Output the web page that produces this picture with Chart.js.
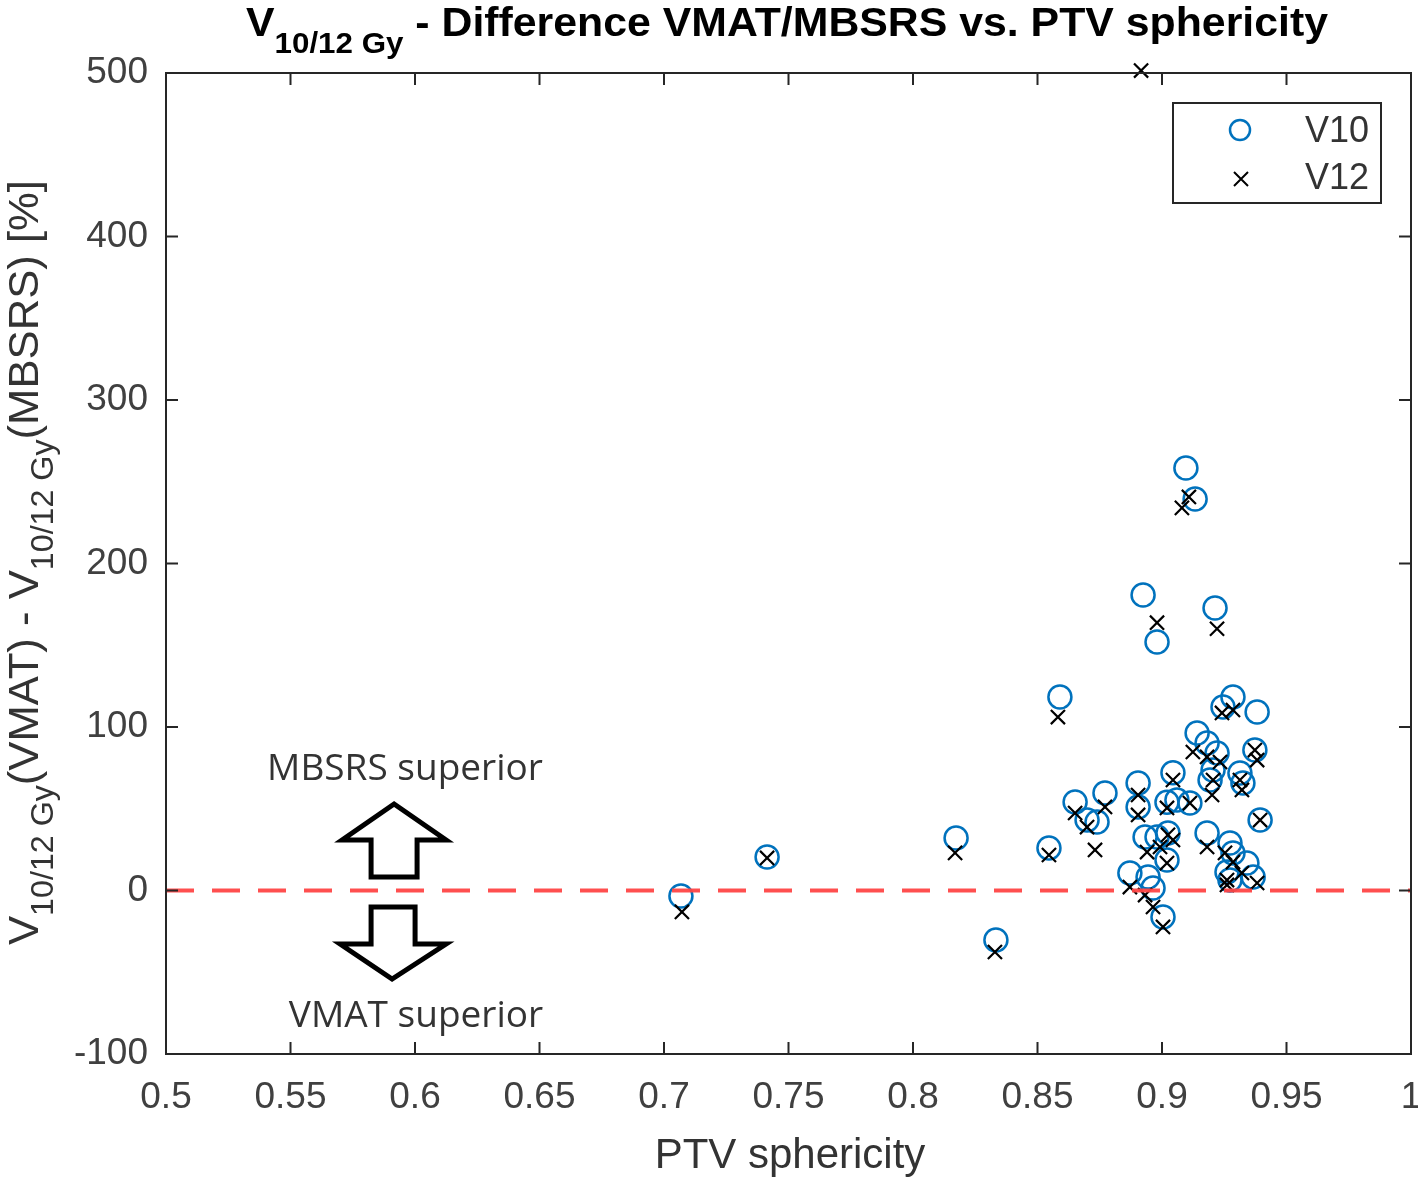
<!DOCTYPE html>
<html>
<head>
<meta charset="utf-8">
<script src="https://cdn.jsdelivr.net/npm/chart.js@4.4.1/dist/chart.umd.min.js"></script>
<style>
  html, body { margin: 0; padding: 0; background: #fff; }
  #wrap { width: 1418px; height: 1178px; }
</style>
</head>
<body>
<div id="wrap"><canvas id="chart" width="1418" height="1178"></canvas></div>
<script>
// valores (V10 = círculos, V12 = x)
const v10X = [0.7068, 0.7414, 0.8173, 0.8333, 0.8546, 0.8590, 0.8651, 0.8771, 0.8699, 0.8739,
              0.8904, 0.8904, 0.9044, 0.9020, 0.9060, 0.9112, 0.8932, 0.8980, 0.9024, 0.9020,
              0.8871, 0.8944, 0.8964, 0.9004, 0.9141, 0.9181, 0.9221, 0.9245, 0.9285, 0.9382,
              0.9373, 0.9313, 0.9325, 0.9193, 0.9205, 0.9394, 0.9181, 0.9273, 0.9285, 0.9341,
              0.9261, 0.9366, 0.9273, 0.9096, 0.9133, 0.8924, 0.8980, 0.9213];
const v10Y = [-3.4, 20.5, 32.1, -30.3, 26.0, 118.3, 54.1, 59.6, 43.1, 41.9,
              65.7, 51.1, 72.0, 54.0, 55.3, 53.5, 32.7, 32.7, 35.2, 18.7,
              10.7, 8.3, 1.5, -16.2, 96.3, 90.2, 84.1, 112.2, 118.3, 109.2,
              85.9, 71.9, 65.8, 67.6, 73.7, 43.1, 35.2, 29.1, 23.0, 16.8,
              11.3, 8.3, 6.4, 258.4, 239.4, 180.7, 152.0, 172.8];

const v12X = [0.7072, 0.7414, 0.8169, 0.8329, 0.8546, 0.8582, 0.8651, 0.8771, 0.8699, 0.8731,
              0.8904, 0.8904, 0.9044, 0.9020, 0.9112, 0.9024, 0.9044, 0.8940, 0.8992, 0.9020,
              0.8871, 0.8932, 0.8964, 0.9004, 0.9124, 0.9181, 0.9233, 0.9241, 0.9285, 0.9373,
              0.9382, 0.9313, 0.9321, 0.9201, 0.9205, 0.9394, 0.9181, 0.9253, 0.9285, 0.9321,
              0.9261, 0.9382, 0.9261, 0.9108, 0.9080, 0.8980, 0.9221, 0.8916];
const v12Y = [-13.1, 19.9, 23.0, -37.6, 21.7, 106.1, 47.4, 51.1, 38.8, 24.8,
              58.4, 46.2, 67.6, 50.5, 53.5, 34.0, 30.9, 23.5, 26.6, 16.8,
              2.1, -2.8, -10.1, -22.3, 84.7, 81.7, 78.6, 108.6, 110.4, 85.9,
              79.8, 67.6, 61.5, 58.4, 67.6, 43.1, 26.6, 23.0, 17.4, 10.7,
              6.4, 4.6, 3.4, 240.7, 234.0, 163.8, 160.1, 501.5];

const xRange = [0.5, 1];
const yRange = [-100, 500];
const refLine = [0, 0];   // linha de referência y = 0

const seriesNames = ['V10', 'V12'];
const titleMain = 'V';
const titleSub = '10/12 Gy';
const titleRest = ' - Difference VMAT/MBSRS vs. PTV sphericity';
const xTitle = 'PTV sphericity';
const upLabel = 'MBSRS superior';
const downLabel = 'VMAT superior';
const arrowX = 0.5916;    // posição das setas (unidades do eixo x)

const blue = '#0072BD';
const axisCol = '#262626';
const textCol = '#333333';

function toPoints(xs, ys) {
    return xs.map((x, i) => ({ x: x, y: ys[i] }));
}

// desenha texto com partes em subscrito, ajustado a uma largura alvo
function drawRich(ctx, parts, x, y, targetW) {
    let total = 0;
    parts.forEach(p => { ctx.font = p.font; total += ctx.measureText(p.text).width; });
    const sx = targetW ? targetW / total : 1;
    ctx.save();
    ctx.translate(x, y);
    ctx.scale(sx, 1);
    let cx = 0;
    parts.forEach(p => {
        ctx.font = p.font;
        ctx.fillText(p.text, cx, p.dy || 0);
        cx += ctx.measureText(p.text).width;
    });
    ctx.restore();
}

const decorPlugin = {
    id: 'decor',
    afterDraw(chart) {
        const ctx = chart.ctx;
        const a = chart.chartArea;
        const xs = chart.scales.x, ys = chart.scales.y;
        ctx.save();

        // caixa do eixo e ticks para dentro
        ctx.strokeStyle = axisCol;
        ctx.lineWidth = 2;
        ctx.strokeRect(a.left, a.top, a.right - a.left, a.bottom - a.top);
        ctx.beginPath();
        xs.ticks.forEach(t => {
            const px = xs.getPixelForValue(t.value);
            ctx.moveTo(px, a.bottom); ctx.lineTo(px, a.bottom - 12);
            ctx.moveTo(px, a.top); ctx.lineTo(px, a.top + 12);
        });
        ys.ticks.forEach(t => {
            const py = ys.getPixelForValue(t.value);
            ctx.moveTo(a.left, py); ctx.lineTo(a.left + 12, py);
            ctx.moveTo(a.right, py); ctx.lineTo(a.right - 12, py);
        });
        ctx.stroke();

        // título
        ctx.fillStyle = '#000';
        ctx.textBaseline = 'alphabetic';
        ctx.textAlign = 'left';
        drawRich(ctx, [
            { text: titleMain, font: 'bold 41px "Liberation Sans"' },
            { text: titleSub, font: 'bold 30px "Liberation Sans"', dy: 17 },
            { text: titleRest, font: 'bold 41px "Liberation Sans"' }
        ], 246, 36, 1082);

        // título do eixo x
        ctx.fillStyle = textCol;
        ctx.font = '42px "Liberation Sans"';
        ctx.textAlign = 'center';
        ctx.fillText(xTitle, 790, 1168);

        // título do eixo y (rodado)
        ctx.textAlign = 'left';
        ctx.save();
        ctx.translate(38, 945);
        ctx.rotate(-Math.PI / 2);
        drawRich(ctx, [
            { text: 'V', font: '42px "Liberation Sans"' },
            { text: titleSub, font: '31px "Liberation Sans"', dy: 15 },
            { text: '(VMAT) - V', font: '42px "Liberation Sans"' },
            { text: titleSub, font: '31px "Liberation Sans"', dy: 15 },
            { text: '(MBSRS) [%]', font: '42px "Liberation Sans"' }
        ], 0, 0, 765);
        ctx.restore();

        // legenda
        const lx = 1173, ly = 103, lw = 208, lh = 100;
        ctx.fillStyle = '#fff';
        ctx.fillRect(lx, ly, lw, lh);
        ctx.strokeStyle = axisCol;
        ctx.lineWidth = 2;
        ctx.strokeRect(lx, ly, lw, lh);
        ctx.strokeStyle = blue;
        ctx.lineWidth = 2.5;
        ctx.beginPath();
        ctx.arc(1240, 130, 10, 0, Math.PI * 2);
        ctx.stroke();
        ctx.strokeStyle = '#000';
        ctx.lineWidth = 2;
        ctx.beginPath();
        ctx.moveTo(1234, 172); ctx.lineTo(1248, 186);
        ctx.moveTo(1248, 172); ctx.lineTo(1234, 186);
        ctx.stroke();
        ctx.fillStyle = textCol;
        ctx.font = '36px "Liberation Sans"';
        ctx.textAlign = 'right';
        ctx.textBaseline = 'middle';
        ctx.fillText(seriesNames[0], 1369, 132);
        ctx.fillText(seriesNames[1], 1369, 179);

        // anotações com setas
        const ax = xs.getPixelForValue(arrowX);
        ctx.fillStyle = textCol;
        ctx.font = '37px "Open Sans"';
        ctx.textAlign = 'center';
        ctx.textBaseline = 'middle';
        ctx.fillText(upLabel, 405, 769);
        ctx.fillText(downLabel, 416, 1016);

        ctx.strokeStyle = '#000';
        ctx.lineWidth = 5;
        ctx.lineJoin = 'miter';
        // seta para cima
        ctx.beginPath();
        ctx.moveTo(ax - 23, 877);
        ctx.lineTo(ax - 23, 840);
        ctx.lineTo(ax - 52, 840);
        ctx.lineTo(ax, 804);
        ctx.lineTo(ax + 52, 840);
        ctx.lineTo(ax + 23, 840);
        ctx.lineTo(ax + 23, 877);
        ctx.closePath();
        ctx.stroke();
        // seta para baixo
        ctx.beginPath();
        ctx.moveTo(ax - 23, 907);
        ctx.lineTo(ax - 23, 944);
        ctx.lineTo(ax - 54, 944);
        ctx.lineTo(ax - 2, 979);
        ctx.lineTo(ax + 52, 944);
        ctx.lineTo(ax + 21, 944);
        ctx.lineTo(ax + 21, 907);
        ctx.closePath();
        ctx.stroke();

        ctx.restore();
    }
};

const ctx = document.getElementById('chart').getContext('2d');
new Chart(ctx, {
    type: 'scatter',
    data: {
        datasets: [
            {
                type: 'line',
                label: 'zero',
                data: [{ x: xRange[0], y: refLine[0] }, { x: xRange[1], y: refLine[1] }],
                borderColor: 'rgba(255, 70, 70, 0.95)',
                borderWidth: 4,
                borderDash: [28, 18],
                pointRadius: 0,
                fill: false
            },
            {
                label: seriesNames[1],
                data: toPoints(v12X, v12Y),
                pointStyle: 'crossRot',
                pointRadius: 10,
                borderColor: '#000',
                borderWidth: 2.2,
                backgroundColor: '#000',
                clip: false
            },
            {
                label: seriesNames[0],
                data: toPoints(v10X, v10Y),
                pointStyle: 'circle',
                pointRadius: 11.5,
                borderColor: blue,
                borderWidth: 2.5,
                backgroundColor: 'rgba(0,0,0,0)',
                clip: false
            }
        ]
    },
    options: {
        responsive: false,
        animation: false,
        layout: { autoPadding: false, padding: { left: 0, right: 7, top: 73, bottom: 0 } },
        plugins: {
            legend: { display: false },
            title: { display: false },
            tooltip: { enabled: false }
        },
        scales: {
            x: {
                type: 'linear',
                min: xRange[0],
                max: xRange[1],
                grid: { display: false, drawTicks: false },
                border: { display: false },
                ticks: {
                    stepSize: 0.05,
                    padding: 22,
                    color: '#404040',
                    maxRotation: 0,
                    autoSkip: false,
                    font: { family: 'Liberation Sans', size: 37 },
                    callback: v => Number(v.toFixed(2)).toString()
                },
                afterFit: s => {
                    s.height = 124;
                    s.paddingLeft = 0; s.paddingRight = 0;
                }
            },
            y: {
                type: 'linear',
                min: yRange[0],
                max: yRange[1],
                grid: { display: false, drawTicks: false },
                border: { display: false },
                ticks: {
                    stepSize: 100,
                    padding: 18,
                    color: '#404040',
                    font: { family: 'Liberation Sans', size: 37 }
                },
                afterFit: s => {
                    s.width = 166;
                    s.paddingTop = 0; s.paddingBottom = 0;
                }
            }
        }
    },
    plugins: [decorPlugin]
});
</script>
</body>
</html>
